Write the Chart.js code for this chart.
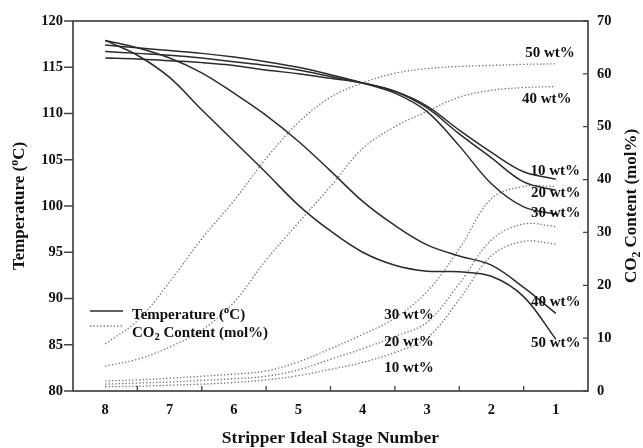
<!DOCTYPE html>
<html>
<head>
<meta charset="utf-8">
<script src="https://cdn.jsdelivr.net/npm/chart.js@4.4.1/dist/chart.umd.min.js"></script>
<style>
  html, body { margin: 0; padding: 0; background: #fff; }
  #wrap { width: 643px; height: 448px; position: relative; }
</style>
</head>
<body>
<div id="wrap"><canvas id="c" width="643" height="448"></canvas></div>
<script>
// ---- data ----
const stages = [8, 7.5, 7, 6.5, 6, 5.5, 5, 4.5, 4, 3.5, 3, 2.5, 2, 1.5, 1];
const stageTicks = [1, 2, 3, 4, 5, 6, 7, 8];
const seriesNames = ['10 wt%', '20 wt%', '30 wt%', '40 wt%', '50 wt%'];

// Temperature (°C), left axis
const temp10 = [116.0, 115.9, 115.7, 115.5, 115.2, 114.7, 114.3, 113.8, 113.3, 112.4, 110.8, 108.2, 105.8, 103.7, 102.9];
const temp20 = [116.7, 116.5, 116.3, 116.0, 115.6, 115.2, 114.7, 114.0, 113.3, 112.4, 110.6, 107.8, 105.2, 102.6, 101.7];
const temp30 = [117.4, 117.1, 116.8, 116.5, 116.1, 115.6, 115.0, 114.2, 113.3, 112.2, 110.2, 106.5, 102.4, 99.9, 99.1];
const temp40 = [117.9, 117.1, 116.0, 114.4, 112.2, 109.8, 107.0, 103.8, 100.5, 97.9, 95.8, 94.6, 93.6, 91.2, 88.4];
const temp50 = [117.9, 116.3, 113.9, 110.4, 107.0, 103.6, 100.1, 97.3, 95.0, 93.6, 92.95, 92.9, 92.4, 90.2, 85.6];

// CO2 content (mol%), right axis
const co2_10 = [0.8, 0.9, 1.1, 1.3, 1.6, 2.1, 2.9, 4.1, 5.4, 7.3, 10.0, 17.3, 25.6, 28.3, 27.8];
const co2_20 = [1.3, 1.5, 1.7, 2.0, 2.3, 2.8, 4.0, 6.0, 8.0, 10.3, 13.0, 20.3, 28.6, 31.6, 31.1];
const co2_30 = [1.9, 2.1, 2.4, 2.8, 3.2, 3.8, 5.5, 8.0, 10.7, 13.8, 18.8, 26.9, 36.4, 38.7, 38.7];
const co2_40 = [4.7, 6.0, 8.3, 11.5, 16.8, 24.8, 31.8, 38.7, 45.9, 50.0, 52.9, 55.6, 56.9, 57.4, 57.6];
const co2_50 = [8.9, 13.3, 20.6, 28.8, 36.0, 44.0, 50.8, 55.6, 58.3, 60.1, 61.0, 61.4, 61.6, 61.8, 61.9];

const tempTicks = [80, 85, 90, 95, 100, 105, 110, 115, 120];
const co2Ticks = [0, 10, 20, 30, 40, 50, 60, 70];

// curve-end annotations, anchored in data coordinates [text, stage, value, axis]
const curveLabels = [
  ['50 wt%', 1.09, 63.9, 'y2'],
  ['40 wt%', 1.14, 55.2, 'y2'],
  ['10 wt%', 1.01, 103.8, 'y'],
  ['20 wt%', 1.00, 101.4, 'y'],
  ['30 wt%', 1.00, 99.2, 'y'],
  ['40 wt%', 1.00, 89.6, 'y'],
  ['50 wt%', 1.00, 85.2, 'y'],
  ['30 wt%', 3.28, 14.4, 'y2'],
  ['20 wt%', 3.28, 9.3, 'y2'],
  ['10 wt%', 3.28, 4.35, 'y2']
];

const tempSeries = [temp10, temp20, temp30, temp40, temp50];
const co2Series = [co2_10, co2_20, co2_30, co2_40, co2_50];

const FONT = "'Liberation Serif', 'Times New Roman', serif";
const solidColor = '#2b2b2b';
const dotColor = '#6e6e6e';

const datasets = [];
tempSeries.forEach((arr, i) => {
  datasets.push({
    label: 'Temperature ' + seriesNames[i],
    data: stages.map((s, k) => ({ x: s, y: arr[k] })),
    yAxisID: 'y',
    borderColor: solidColor,
    borderWidth: 1.5,
    pointRadius: 0,
    tension: 0.35,
    fill: false
  });
});
co2Series.forEach((arr, i) => {
  datasets.push({
    label: 'CO2 ' + seriesNames[i],
    data: stages.map((s, k) => ({ x: s, y: arr[k] })),
    yAxisID: 'y2',
    borderColor: dotColor,
    borderWidth: 1.3,
    borderDash: [1.3, 2.1],
    pointRadius: 0,
    tension: 0.35,
    fill: false
  });
});

function drawRich(ctx, parts, cx, cy, baseSize) {
  let total = 0;
  parts.forEach(p => {
    ctx.font = 'bold ' + (baseSize * p[1]) + 'px ' + FONT;
    total += ctx.measureText(p[0]).width;
  });
  drawRichLeft(ctx, parts, cx - total / 2, cy, baseSize);
}
function drawRichLeft(ctx, parts, x, cy, baseSize) {
  ctx.textAlign = 'left';
  ctx.textBaseline = 'middle';
  parts.forEach(p => {
    ctx.font = 'bold ' + (baseSize * p[1]) + 'px ' + FONT;
    ctx.fillText(p[0], x, cy + p[2] * baseSize);
    x += ctx.measureText(p[0]).width;
  });
}

const decor = {
  id: 'decor',
  afterDraw(chart) {
    const ctx = chart.ctx;
    const a = chart.chartArea;
    const xs = chart.scales.x, ys = chart.scales.y, y2 = chart.scales.y2;
    ctx.save();
    // frame
    ctx.strokeStyle = '#444';
    ctx.lineWidth = 1.7;
    ctx.strokeRect(a.left, a.top, a.right - a.left, a.bottom - a.top);
    // ticks
    ctx.lineWidth = 1.3;
    ctx.beginPath();
    for (let v = 1.5; v <= 7.5; v += 1) {
      const px = xs.getPixelForValue(v);
      ctx.moveTo(px, a.bottom); ctx.lineTo(px, a.bottom - 5);
    }
    tempTicks.forEach(v => {
      const py = ys.getPixelForValue(v);
      ctx.moveTo(a.left - 9, py); ctx.lineTo(a.left, py);
    });
    co2Ticks.forEach(v => {
      const py = y2.getPixelForValue(v);
      ctx.moveTo(a.right - 5, py); ctx.lineTo(a.right, py);
    });
    ctx.stroke();

    ctx.fillStyle = '#111';
    // x title
    ctx.font = 'bold 17.5px ' + FONT;
    ctx.textAlign = 'center';
    ctx.textBaseline = 'middle';
    ctx.fillText('Stripper Ideal Stage Number', (a.left + a.right) / 2, 438);

    // left title
    ctx.save();
    ctx.translate(20, (a.top + a.bottom) / 2);
    ctx.rotate(-Math.PI / 2);
    drawRich(ctx, [['Temperature (', 1, 0], ['o', 0.7, -0.32], ['C)', 1, 0]], 0, 0, 17);
    ctx.restore();

    // right title
    ctx.save();
    ctx.translate(632, (a.top + a.bottom) / 2);
    ctx.rotate(-Math.PI / 2);
    drawRich(ctx, [['CO', 1, 0], ['2', 0.7, 0.3], [' Content (mol%)', 1, 0]], 0, 0, 17);
    ctx.restore();

    // legend
    const lx0 = a.left + 17, lx1 = a.left + 50;
    ctx.strokeStyle = solidColor;
    ctx.lineWidth = 1.5;
    ctx.setLineDash([]);
    ctx.beginPath(); ctx.moveTo(lx0, 311); ctx.lineTo(lx1, 311); ctx.stroke();
    ctx.strokeStyle = dotColor;
    ctx.lineWidth = 1.3;
    ctx.setLineDash([1.3, 2.1]);
    ctx.beginPath(); ctx.moveTo(lx0, 326); ctx.lineTo(lx1, 326); ctx.stroke();
    ctx.setLineDash([]);
    drawRichLeft(ctx, [['Temperature (', 1, 0], ['o', 0.7, -0.32], ['C)', 1, 0]], a.left + 59, 315, 15);
    drawRichLeft(ctx, [['CO', 1, 0], ['2', 0.7, 0.3], [' Content (mol%)', 1, 0]], a.left + 59, 333, 15);

    // curve labels
    ctx.font = 'bold 15px ' + FONT;
    ctx.textAlign = 'center';
    ctx.textBaseline = 'middle';
    curveLabels.forEach(l => {
      const px = xs.getPixelForValue(l[1]);
      const py = chart.scales[l[3]].getPixelForValue(l[2]);
      ctx.fillText(l[0], px, py);
    });
    ctx.restore();
  }
};

new Chart(document.getElementById('c'), {
  type: 'line',
  data: { datasets },
  options: {
    responsive: false,
    animation: false,
    events: [],
    layout: { padding: { top: 21, left: 0, right: 0, bottom: 0 } },
    plugins: { legend: { display: false }, tooltip: { enabled: false } },
    scales: {
      x: {
        type: 'linear',
        reverse: true,
        min: 0.5,
        max: 8.5,
        afterBuildTicks: s => { s.ticks = stageTicks.map(v => ({ value: v })); },
        afterFit: s => { s.height = 57; },
        grid: { display: false, drawTicks: false },
        border: { display: false },
        ticks: { color: '#111', padding: 11, font: { family: FONT, size: 14.5, weight: 'bold' }, maxRotation: 0 }
      },
      y: {
        position: 'left',
        min: 80,
        max: 120,
        afterBuildTicks: s => { s.ticks = tempTicks.map(v => ({ value: v })); },
        afterFit: s => { s.width = 73; },
        grid: { display: false, drawTicks: false },
        border: { display: false },
        ticks: { color: '#111', padding: 10, font: { family: FONT, size: 14.5, weight: 'bold' } }
      },
      y2: {
        position: 'right',
        min: 0,
        max: 70,
        afterBuildTicks: s => { s.ticks = co2Ticks.map(v => ({ value: v })); },
        afterFit: s => { s.width = 55; },
        grid: { display: false, drawTicks: false },
        border: { display: false },
        ticks: { color: '#111', padding: 9, font: { family: FONT, size: 14.5, weight: 'bold' } }
      }
    }
  },
  plugins: [decor]
});
</script>
</body>
</html>
